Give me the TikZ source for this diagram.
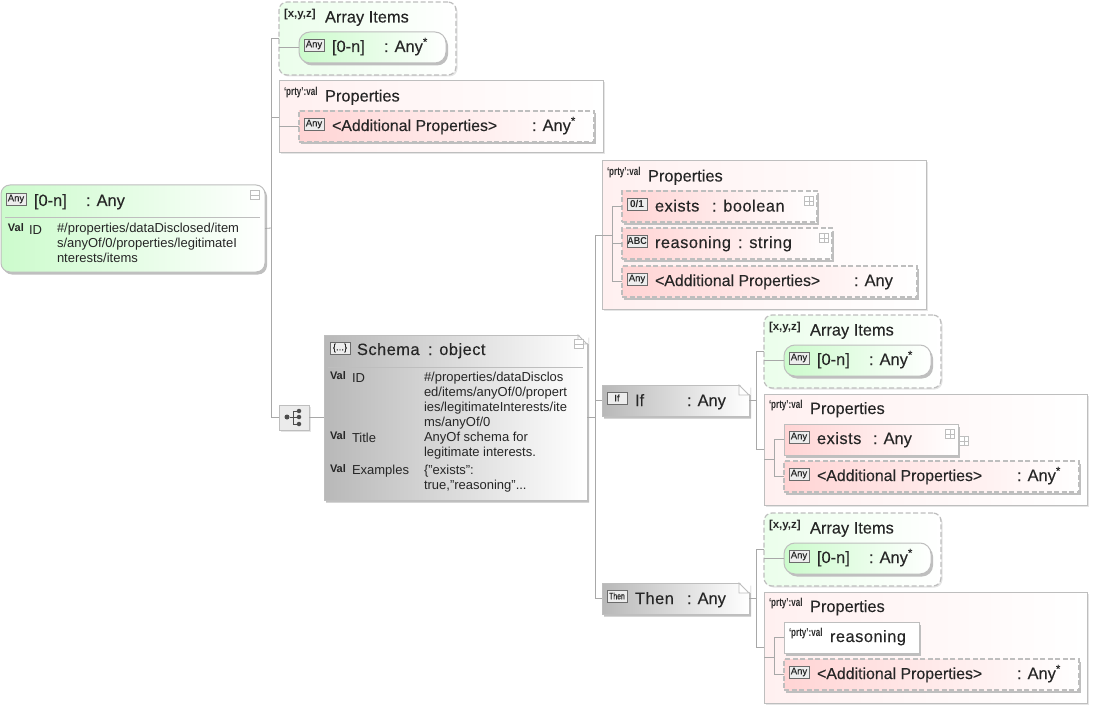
\documentclass[tikz,border=0pt]{standalone}
\usepackage{fontspec}
\setmainfont{Liberation Sans}
\newfontfamily\titlefont[FakeBold=.2]{Liberation Sans}
\newfontfamily\spacedfont[FakeBold=.2,LetterSpace=3]{Liberation Sans}
\usetikzlibrary{shadows,shapes.misc}
\definecolor{inkcol}{HTML}{262626}
\definecolor{edgecol}{HTML}{BEBEBE}
\definecolor{linkcol}{HTML}{A8A8A8}
\definecolor{greenhi}{HTML}{CCFBCC}
\definecolor{greenmid}{HTML}{F0FFF0}
\definecolor{greenlo}{HTML}{EBFEEB}
\definecolor{pinkhi}{HTML}{FFD4D4}
\definecolor{pinkmid}{HTML}{FFF4F4}
\definecolor{pinklo}{HTML}{FFF0F0}
\definecolor{greyhi}{HTML}{B8B8B8}
\begin{document}
\begin{tikzpicture}[x=1pt, y=-1pt, line width=1pt, every node/.style={inner sep=0pt, outer sep=0pt}]
\tikzstyle{softshadow}=[general shadow={shadow xshift=1.5pt, shadow yshift=-1.5pt, fill=black!10}]
\tikzstyle{hardshadow}=[general shadow={shadow xshift=2pt, shadow yshift=-2.5pt, fill=black!25}]
\tikzstyle{basebox}=[draw=edgecol, anchor=north west, rectangle]
\tikzstyle{propsbox}=[basebox, softshadow, left color=pinklo, middle color=white, right color=white]
\tikzstyle{arraybox}=[basebox, softshadow, line width=1.2pt, dash pattern=on 5pt off 2.5pt, rounded corners=8pt, left color=greenlo, middle color=white, right color=white]
\tikzstyle{pillbox}=[basebox, hardshadow, rounded corners=11pt, left color=greenhi, middle color=greenmid, right color=white]
\tikzstyle{pinkbox}=[basebox, hardshadow, left color=pinkhi, middle color=pinkmid, right color=white]
\tikzstyle{openbox}=[pinkbox, line width=1.2pt, dash pattern=on 5pt off 2.5pt]
\tikzstyle{notebox}=[draw=edgecol, anchor=center, hardshadow, chamfered rectangle, chamfered rectangle corners=north east, left color=greyhi, right color=white]
\tikzstyle{fold}=[draw=edgecol, fill=white, line width=.8pt]
\tikzstyle{link}=[draw=linkcol, line width=.8pt]
\tikzstyle{rule}=[draw=edgecol, line width=.8pt]
\tikzstyle{title}=[anchor=base west, text=inkcol, font=\titlefont\fontsize{16.4}{18}\selectfont]
\tikzstyle{spaced}=[anchor=base west, text=inkcol, font=\spacedfont\fontsize{16.4}{18}\selectfont]
\tikzstyle{longtitle}=[anchor=base west, text=inkcol, font=\titlefont\fontsize{15.9}{18}\selectfont]
\tikzstyle{tagmark}=[anchor=west, text=inkcol, font=\fontsize{11.5}{13}\selectfont\bfseries]
\tikzstyle{valmark}=[anchor=west, text=inkcol, font=\fontsize{11}{12}\selectfont\bfseries]
\tikzstyle{fieldname}=[anchor=west, text=inkcol, font=\fontsize{13}{14}\selectfont]
\tikzstyle{body}=[anchor=north west, align=left, text=inkcol, font=\fontsize{13}{14.7}\selectfont]
\tikzstyle{icon}=[anchor=west, draw=black!58, fill=black!7, minimum width=20pt, minimum height=12pt, line width=.9pt, text=inkcol, font=\titlefont\fontsize{9.5}{10}\selectfont]
\tikzstyle{boldicon}=[icon, font=\fontsize{10}{10}\selectfont\bfseries]
\tikzstyle{toggle}=[draw=edgecol, fill=white, minimum size=8.5pt, line width=.7pt]
\tikzstyle{dot}=[circle, fill=black!70, minimum size=5pt]
\tikzstyle{twig}=[draw=black!70, line width=.9pt]
\useasboundingbox (0,0) rectangle (1093,706);

% root element
\node [pillbox, rounded corners=9pt, minimum width=264pt, minimum height=87pt] (root) at (1,185) {};
\node [icon] (rooticon) at ([shift={(5,14)}]root.north west) {Any};
\node [title] (rootname) at ([shift={(33,21)}]root.north west) {[0-n]};
\node [title] (roottype) at ([shift={(85,21)}]root.north west) {: Any};
\draw [rule] ([shift={(4,32)}]root.north west) -- ([shift={(-5,32)}]root.north east);
\node [toggle] (roottoggle) at ([shift={(-10,10)}]root.north east) {};
\draw [rule] (roottoggle.west) -- (roottoggle.east);
\node [valmark] (rootval) at ([shift={(7,43)}]root.north west) {Val};
\node [fieldname] (rootid) at ([shift={(28,45)}]root.north west) {ID};
\node [body] (rootbody) at ([shift={(56,38.5)}]root.north west) {\#/properties/dataDisclosed/item\\s/anyOf/0/properties/legitimateI\\nterests/items};

% first level
\node [arraybox, minimum width=177pt, minimum height=73pt] (arr) at (279,2) {};
\node [tagmark] (arrmark) at ([shift={(5,13)}]arr.north west) {[x,y,z]};
\node [title] (arrtitle) at ([shift={(46,20.5)}]arr.north west) {Array Items};
\node [pillbox, minimum width=147pt, minimum height=31pt] (arritem) at (299,32) {};
\node [icon] (arritemicon) at ([shift={(5,13)}]arritem.north west) {Any};
\node [title] (arritemname) at ([shift={(33,20)}]arritem.north west) {[0-n]};
\node [title] (arritemtype) at ([shift={(85,20)}]arritem.north west) {: Any\textsuperscript{*}};

\node [propsbox, minimum width=324pt, minimum height=72pt] (props) at (279,81) {};
\node [tagmark] (propsmark) at ([shift={(5,12)}]props.north west) {\scalebox{.7}[1]{`prty':val}};
\node [title] (propstitle) at ([shift={(46,20.5)}]props.north west) {Properties};
\node [openbox, minimum width=295pt, minimum height=31pt] (propsadd) at (299,111) {};
\node [icon] (propsaddicon) at ([shift={(5,13)}]propsadd.north west) {Any};
\node [longtitle] (propsaddname) at ([shift={(33,20)}]propsadd.north west) {<Additional Properties>};
\node [title] (propsaddtype) at ([shift={(233,20)}]propsadd.north west) {: Any\textsuperscript{*}};

\node [basebox, softshadow, fill=black!8, minimum width=30pt, minimum height=25pt] (comp) at (279,405) {};
\node [dot] (compa) at (287,417) {};
\node [dot, minimum size=4.5pt] (compb) at (299,411) {};
\node [dot, minimum size=4.5pt] (compc) at (299,417) {};
\node [dot, minimum size=4.5pt] (compd) at (299,424) {};
\coordinate (compfork) at (293,417);
\draw [twig] (compa) -- (compc);
\draw [twig] (compb) -| (compfork);
\draw [twig] (compd) -| (compfork);

\coordinate (rootbus) at (271,228);
\draw [link] (root.east) -- (rootbus);
\draw [link] (arr.west) -| (rootbus);
\draw [link] (props.west) -| (rootbus);
\draw [link] (comp.west) -| (rootbus);
\draw [link] (arritem.west) -- (arr.west |- arritem.west);
\draw [link] (propsadd.west) -- (props.west |- propsadd.west);

% schema
\node [notebox, minimum width=263pt, minimum height=165pt, chamfered rectangle xsep=8pt, chamfered rectangle ysep=8pt] (schema) at (455.5,417.5) {};
\fill [white] (578,334) -- (588.5,334) -- (588.5,344) -- cycle;
\draw [fold] (578,335) -- (578,344) -- (587,344) -- cycle;
\node [icon] (schemaicon) at ([shift={(6,13)}]schema.west |- schema.north) {\{...\}};
\node [spaced] (schemaname) at ([shift={(33,20)}]schema.west |- schema.north) {Schema};
\node [spaced] (schematype) at ([shift={(104,20)}]schema.west |- schema.north) {: object};
\draw [rule] ([shift={(4,32)}]schema.west |- schema.north) -- ([shift={(-4,32)}]schema.east |- schema.north);
\node [toggle] (schematoggle) at (579,344) {};
\draw [rule] (schematoggle.west) -- (schematoggle.east);
\node [valmark] (schemavala) at ([shift={(6,41)}]schema.west |- schema.north) {Val};
\node [fieldname] (schemaid) at ([shift={(28,43)}]schema.west |- schema.north) {ID};
\node [body] (schemaidbody) at ([shift={(100,37.5)}]schema.west |- schema.north) {\#/properties/dataDisclos\\ed/items/anyOf/0/propert\\ies/legitimateInterests/ite\\ms/anyOf/0};
\node [valmark] (schemavalb) at ([shift={(6,101)}]schema.west |- schema.north) {Val};
\node [fieldname] (schematitle) at ([shift={(28,103)}]schema.west |- schema.north) {Title};
\node [body] (schematitlebody) at ([shift={(100,97)}]schema.west |- schema.north) {AnyOf schema for\\legitimate interests.};
\node [valmark] (schemavalc) at ([shift={(6,134)}]schema.west |- schema.north) {Val};
\node [fieldname] (schemaex) at ([shift={(28,136)}]schema.west |- schema.north) {Examples};
\node [body] (schemaexbody) at ([shift={(100,130)}]schema.west |- schema.north) {\{"exists":\\true,"reasoning"...};
\draw [link] (comp.east) -- (schema.west |- comp.east);

% schema properties
\node [propsbox, minimum width=324pt, minimum height=148pt] (sprops) at (602,161) {};
\node [tagmark] (spropsmark) at ([shift={(5,12)}]sprops.north west) {\scalebox{.7}[1]{`prty':val}};
\node [title] (spropstitle) at ([shift={(46,20.5)}]sprops.north west) {Properties};
\node [openbox, minimum width=195pt, minimum height=31pt] (sexists) at (622,191) {};
\node [boldicon] (sexistsicon) at ([shift={(5,13)}]sexists.north west) {0/1};
\node [spaced] (sexistsname) at ([shift={(33,20.5)}]sexists.north west) {exists};
\node [spaced] (sexiststype) at ([shift={(90,20.5)}]sexists.north west) {: boolean};
\node [toggle] (sexiststoggle) at ([shift={(-8,10)}]sexists.north east) {};
\draw [rule] (sexiststoggle.west) -- (sexiststoggle.east);
\draw [rule] (sexiststoggle.north) -- (sexiststoggle.south);
\node [openbox, minimum width=210pt, minimum height=31pt] (sreason) at (622,228) {};
\node [boldicon] (sreasonicon) at ([shift={(5,13)}]sreason.north west) {\scalebox{.9}[1]{ABC}};
\node [spaced] (sreasonname) at ([shift={(33,20)}]sreason.north west) {reasoning};
\node [spaced] (sreasontype) at ([shift={(116,20)}]sreason.north west) {: string};
\node [toggle] (sreasontoggle) at ([shift={(-8,10)}]sreason.north east) {};
\draw [rule] (sreasontoggle.west) -- (sreasontoggle.east);
\draw [rule] (sreasontoggle.north) -- (sreasontoggle.south);
\node [openbox, minimum width=295pt, minimum height=31pt] (sadd) at (622,266) {};
\node [icon] (saddicon) at ([shift={(5,13)}]sadd.north west) {Any};
\node [longtitle] (saddname) at ([shift={(33,20)}]sadd.north west) {<Additional Properties>};
\node [title] (saddtype) at ([shift={(232,20)}]sadd.north west) {: Any};
\coordinate (spropsbus) at (612,235);
\draw [link] (sprops.west) -- (spropsbus);
\draw [link] (sexists.west) -| (spropsbus);
\draw [link] (sreason.west) -| (spropsbus);
\draw [link] (sadd.west) -| (spropsbus);

% if
\node [notebox, minimum width=147pt, minimum height=31pt, chamfered rectangle xsep=10pt, chamfered rectangle ysep=10pt] (cif) at (675.5,400.5) {};
\fill [white] (739,384) -- (750.5,384) -- (750.5,395) -- cycle;
\draw [fold] (739,385) -- (739,395) -- (749,395) -- cycle;
\node [icon] (cificon) at ([shift={(5,13)}]cif.west |- cif.north) {If};
\node [title] (cifname) at ([shift={(33,21)}]cif.west |- cif.north) {If};
\node [title] (ciftype) at ([shift={(85,21)}]cif.west |- cif.north) {: Any};

\node [arraybox, minimum width=177pt, minimum height=73pt] (ifarr) at (764,315) {};
\node [tagmark] (ifarrmark) at ([shift={(5,13)}]ifarr.north west) {[x,y,z]};
\node [title] (ifarrtitle) at ([shift={(46,20.5)}]ifarr.north west) {Array Items};
\node [pillbox, minimum width=147pt, minimum height=31pt] (ifitem) at (784,345) {};
\node [icon] (ifitemicon) at ([shift={(5,13)}]ifitem.north west) {Any};
\node [title] (ifitemname) at ([shift={(33,20)}]ifitem.north west) {[0-n]};
\node [title] (ifitemtype) at ([shift={(85,20)}]ifitem.north west) {: Any\textsuperscript{*}};

\node [propsbox, minimum width=323pt, minimum height=111pt] (ifprops) at (764,394) {};
\node [tagmark] (ifpropsmark) at ([shift={(5,12)}]ifprops.north west) {\scalebox{.7}[1]{`prty':val}};
\node [title] (ifpropstitle) at ([shift={(46,20)}]ifprops.north west) {Properties};
\node [pinkbox, minimum width=174pt, minimum height=31pt] (ifexists) at (784,424) {};
\node [icon] (ifexistsicon) at ([shift={(5,13)}]ifexists.north west) {Any};
\node [spaced] (ifexistsname) at ([shift={(33,20)}]ifexists.north west) {exists};
\node [title] (ifexiststype) at ([shift={(89,20)}]ifexists.north west) {: Any};
\node [toggle] (ifexiststoggle) at ([shift={(-8,10)}]ifexists.north east) {};
\draw [rule] (ifexiststoggle.west) -- (ifexiststoggle.east);
\draw [rule] (ifexiststoggle.north) -- (ifexiststoggle.south);
\node [toggle] (ifexistsmore) at ([shift={(6,17)}]ifexists.north east) {};
\draw [rule] (ifexistsmore.west) -- (ifexistsmore.east);
\draw [rule] (ifexistsmore.north) -- (ifexistsmore.south);
\node [openbox, minimum width=295pt, minimum height=31pt] (ifadd) at (784,461) {};
\node [icon] (ifaddicon) at ([shift={(5,13)}]ifadd.north west) {Any};
\node [longtitle] (ifaddname) at ([shift={(33,20)}]ifadd.north west) {<Additional Properties>};
\node [title] (ifaddtype) at ([shift={(233,20)}]ifadd.north west) {: Any\textsuperscript{*}};
\coordinate (ifbus) at (756,400.5);
\coordinate (ifpropsbus) at (774,459);
\draw [link] (cif.east) -- (ifbus);
\draw [link] (ifarr.west) -| (ifbus);
\draw [link] (ifprops.west) -| (ifbus);
\draw [link] (ifitem.west) -- (ifarr.west |- ifitem.west);
\draw [link] (ifprops.west |- ifpropsbus) -- (ifpropsbus);
\draw [link] (ifexists.west) -| (ifpropsbus);
\draw [link] (ifadd.west) -| (ifpropsbus);

% then
\node [notebox, minimum width=147pt, minimum height=31pt, chamfered rectangle xsep=10pt, chamfered rectangle ysep=10pt] (cthen) at (675.5,598.5) {};
\fill [white] (739,582) -- (750.5,582) -- (750.5,593) -- cycle;
\draw [fold] (739,583) -- (739,593) -- (749,593) -- cycle;
\node [icon] (cthenicon) at ([shift={(5,13)}]cthen.west |- cthen.north) {\scalebox{.72}[1]{Then}};
\node [spaced] (cthenname) at ([shift={(33,21)}]cthen.west |- cthen.north) {Then};
\node [title] (cthentype) at ([shift={(85,21)}]cthen.west |- cthen.north) {: Any};

\node [arraybox, minimum width=177pt, minimum height=73pt] (thenarr) at (764,513) {};
\node [tagmark] (thenarrmark) at ([shift={(5,13)}]thenarr.north west) {[x,y,z]};
\node [title] (thenarrtitle) at ([shift={(46,20.5)}]thenarr.north west) {Array Items};
\node [pillbox, minimum width=147pt, minimum height=31pt] (thenitem) at (784,543) {};
\node [icon] (thenitemicon) at ([shift={(5,13)}]thenitem.north west) {Any};
\node [title] (thenitemname) at ([shift={(33,20)}]thenitem.north west) {[0-n]};
\node [title] (thenitemtype) at ([shift={(85,20)}]thenitem.north west) {: Any\textsuperscript{*}};

\node [propsbox, minimum width=323pt, minimum height=111pt] (thenprops) at (764,592) {};
\node [tagmark] (thenpropsmark) at ([shift={(5,12)}]thenprops.north west) {\scalebox{.7}[1]{`prty':val}};
\node [title] (thenpropstitle) at ([shift={(46,20)}]thenprops.north west) {Properties};
\node [basebox, hardshadow, fill=white, minimum width=135pt, minimum height=31pt] (threason) at (784,622) {};
\node [tagmark] (threasonmark) at ([shift={(5,12)}]threason.north west) {\scalebox{.7}[1]{`prty':val}};
\node [spaced] (threasonname) at ([shift={(46,20)}]threason.north west) {reasoning};
\node [openbox, minimum width=295pt, minimum height=31pt] (thenadd) at (784,659) {};
\node [icon] (thenaddicon) at ([shift={(5,13)}]thenadd.north west) {Any};
\node [longtitle] (thenaddname) at ([shift={(33,20)}]thenadd.north west) {<Additional Properties>};
\node [title] (thenaddtype) at ([shift={(233,20)}]thenadd.north west) {: Any\textsuperscript{*}};
\coordinate (thenbus) at (756,598.5);
\coordinate (thenpropsbus) at (774,657);
\draw [link] (cthen.east) -- (thenbus);
\draw [link] (thenarr.west) -| (thenbus);
\draw [link] (thenprops.west) -| (thenbus);
\draw [link] (thenitem.west) -- (thenarr.west |- thenitem.west);
\draw [link] (thenprops.west |- thenpropsbus) -- (thenpropsbus);
\draw [link] (threason.west) -| (thenpropsbus);
\draw [link] (thenadd.west) -| (thenpropsbus);

% main branch
\coordinate (schemabus) at (595,417.5);
\draw [link] (schema.east) -- (schemabus);
\draw [link] (sprops.west) -| (schemabus);
\draw [link] (cif.west) -| (schemabus);
\draw [link] (cthen.west) -| (schemabus);
\end{tikzpicture}
\end{document}
